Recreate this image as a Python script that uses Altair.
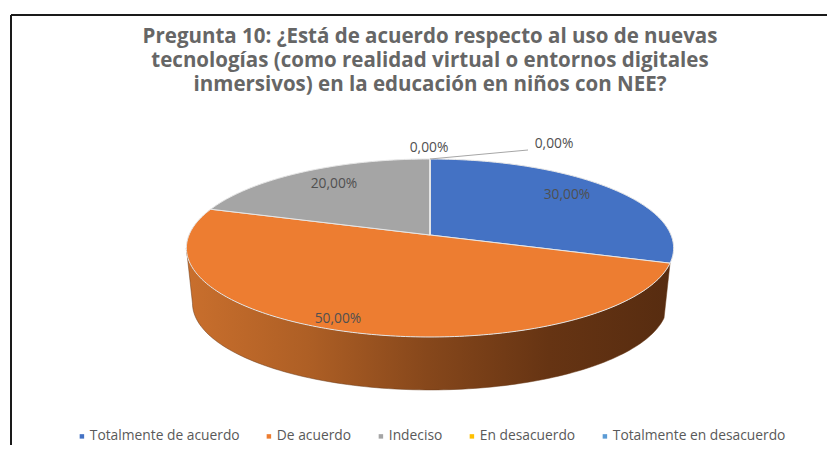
import math
import altair as alt
import pandas as pd

TITLE = ["Pregunta 10: ¿Está de acuerdo respecto al uso de nuevas",
         "tecnologías (como realidad virtual o entornos digitales",
         "inmersivos) en la educación en niños con NEE?"]
CATEGORIES = ["Totalmente de acuerdo", "De acuerdo", "Indeciso", "En desacuerdo", "Totalmente en desacuerdo"]
VALUES = [30.0, 50.0, 20.0, 0.0, 0.0]
COLORS = ["#4472C4", "#ED7D31", "#A5A5A5", "#FFC000", "#5B9BD5"]
LABEL_X = [567, 338, 334, 429, 554]
LABEL_Y = [195, 319, 184, 148, 144]

W, H = 819, 437
CX, CY, RX, RY, K = 430, 235, 241, 87.1, 0.146
DEPTH, BOTTOM_SCALE = 55.5, 0.975
FONT = "Open Sans"


def project(deg, scale=1.0, dy=0.0):
    t = math.radians(deg)
    d = 1 + K * math.cos(t)
    return CX + scale * RX * math.sin(t) / d, CY + dy - scale * RY * math.cos(t) / d


rows, cum = [], 0.0
for cat, val in zip(CATEGORIES, VALUES):
    a0, a1 = cum * 3.6, (cum + val) * 3.6
    pts = [(CX, CY)]
    n = max(1, int(a1 - a0))
    pts += [project(a0 + (a1 - a0) * j / n) for j in range(n + 1)]
    pts.append((CX, CY))
    rows += [dict(cat=cat, i=i, x=p[0], y=p[1]) for i, p in enumerate(pts)]
    cum += val
slices = pd.DataFrame(rows)

# side wall of the largest slice
a0, a1 = VALUES[0] * 3.6, 261.6
angles = [a0 + (a1 - a0) * j / 120 for j in range(121)]
wall_pts = [project(a) for a in angles] + [project(a, BOTTOM_SCALE, DEPTH) for a in reversed(angles)]
wall_pts.append(wall_pts[0])
wall = pd.DataFrame([dict(i=i, x=p[0], y=p[1]) for i, p in enumerate(wall_pts)])

xs = alt.Scale(domain=[8, 8 + W], range=[0, W], nice=False, zero=False)
ys = alt.Scale(domain=[8 + H, 8], range=[H, 0], nice=False, zero=False)
X = alt.X("x:Q", scale=xs, axis=None)
Y = alt.Y("y:Q", scale=ys, axis=None)

wall_layer = alt.Chart(wall).mark_line(
    stroke="#6b3a18", strokeWidth=0.5,
    fill=alt.Gradient(gradient="linear", x1=0, x2=1, y1=0, y2=0, stops=[
        alt.GradientStop(offset=0, color="#C96F2D"),
        alt.GradientStop(offset=0.25, color="#AE5F25"),
        alt.GradientStop(offset=0.5, color="#86471B"),
        alt.GradientStop(offset=0.75, color="#663413"),
        alt.GradientStop(offset=1, color="#572C10"),
    ]),
).encode(x=X, y=Y, order="i:Q")

slice_layer = alt.Chart(slices).mark_line(strokeWidth=1, strokeJoin="round").encode(
    x=X, y=Y, order="i:Q",
    stroke=alt.value("#E6E6E6"),
    fill=alt.Fill("cat:N", scale=alt.Scale(domain=CATEGORIES, range=COLORS), sort=CATEGORIES, legend=alt.Legend(
        title=None, orient="none", legendX=67, legendY=421.5, direction="horizontal",
        columns=5, gridAlign="none", columnPadding=22, symbolType="square", symbolSize=20,
        symbolStrokeWidth=0, labelFont=FONT, labelFontSize=13.8, labelColor="#595959", padding=0,
        symbolOffset=0, labelOffset=1, labelLimit=300,
    )),
)

labels = pd.DataFrame(dict(
    text=[f"{v:.2f}%".replace(".", ",") for v in VALUES], x=LABEL_X, y=LABEL_Y))
label_layer = alt.Chart(labels).mark_text(
    font=FONT, fontSize=13.8, color="#505050", align="center", baseline="middle"
).encode(x=X, y=Y, text="text:N")

leader = pd.DataFrame(dict(x=[CX, LABEL_X[4] - 26], y=[159, 150]))
leader_layer = alt.Chart(leader).mark_line(color="#A6A6A6", strokeWidth=1).encode(x=X, y=Y)

left_border = alt.Chart(pd.DataFrame(dict(x=[11, 11], y=[15, 445]))).mark_line(color="#1A1A1A", strokeWidth=2).encode(x=X, y=Y)
top_border = alt.Chart(pd.DataFrame(dict(x=[11, 827], y=[15, 15]))).mark_line(color="#1A1A1A", strokeWidth=2).encode(x=X, y=Y)

chart = alt.layer(left_border, top_border, wall_layer, slice_layer, leader_layer, label_layer).properties(
    width=W, height=H, padding=0,
    autosize=alt.AutoSizeParams(type="none"),
    title=alt.TitleParams(
        text=TITLE, font=FONT, fontSize=20.5, fontWeight="bold", color="#666666",
        anchor="middle", align="center", dx=12.5, lineHeight=24, offset=-87,
    ),
).configure_view(stroke=None)

chart.save("out.html", embed_options={"renderer": "svg", "actions": False})
